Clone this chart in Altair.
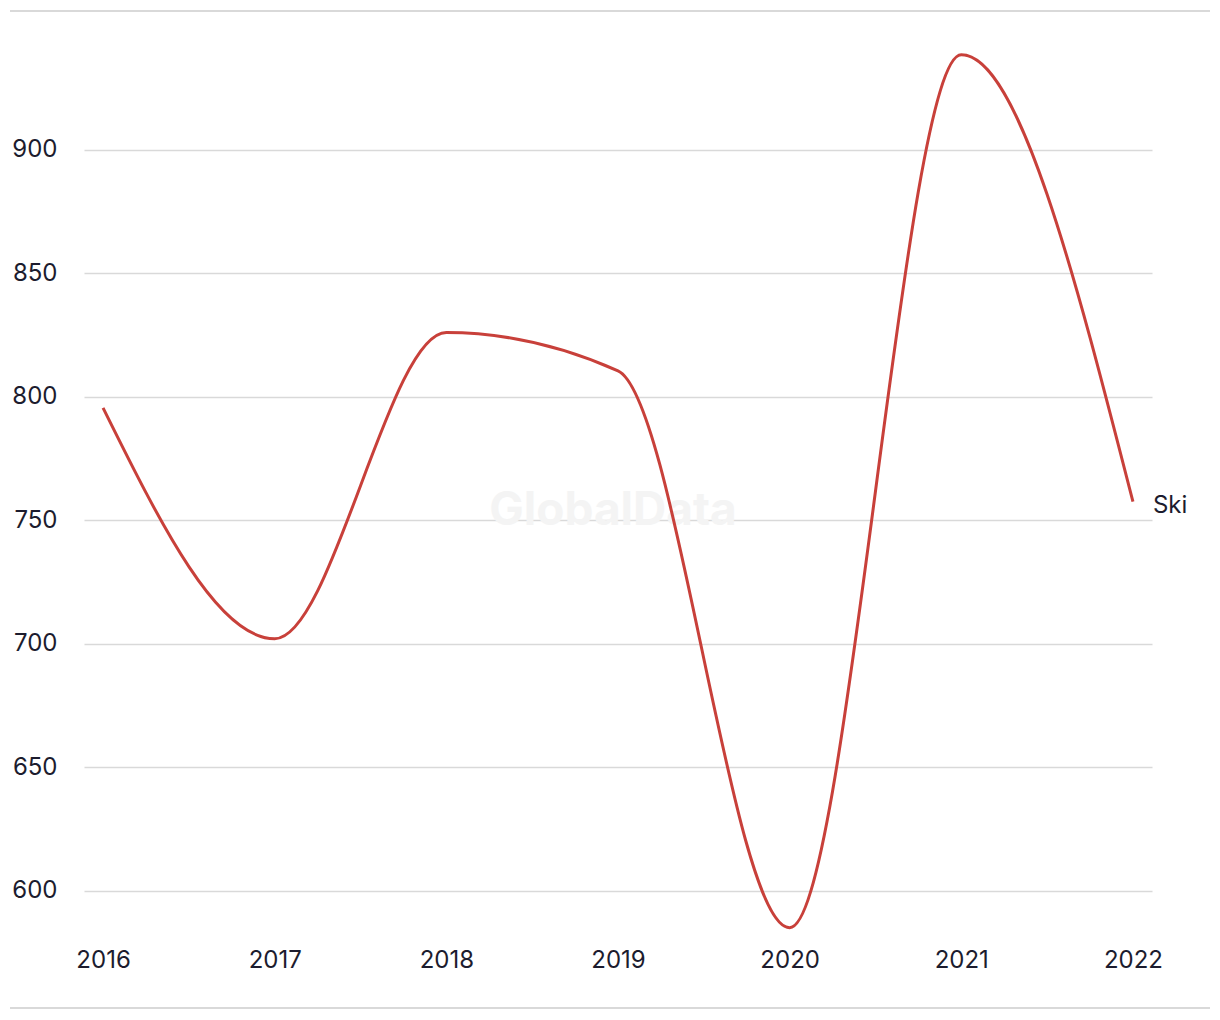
import altair as alt
import pandas as pd

years = [2016, 2017, 2018, 2019, 2020, 2021, 2022]
values = [795.5, 702.0, 826.0, 810.5, 585.0, 938.5, 757.5]
series = "Ski"
y_ticks = [600, 650, 700, 750, 800, 850, 900]

df = pd.DataFrame({"year": years, "value": values, "series": series})
last = df.tail(1)

FONT = "Inter"
TEXT = "#1c1c2e"
FS = 24

x = alt.X("year:Q", scale=alt.Scale(domain=[2015.889, 2022.111], nice=False, zero=False),
          axis=alt.Axis(values=years, format="d", grid=False, domain=False, ticks=False,
                        labelFontSize=FS, labelColor=TEXT, labelFont=FONT, labelPadding=8,
                        title=None))
y = alt.Y("value:Q", scale=alt.Scale(domain=[580, 944.5], nice=False, zero=False),
          axis=alt.Axis(values=y_ticks, domain=False, ticks=False, gridColor="#d9d9d9",
                        gridWidth=1.5, labelFontSize=FS, labelColor=TEXT, labelFont=FONT,
                        labelPadding=27, title=None))

watermark = alt.Chart(pd.DataFrame({"t": ["GlobalData"]})).mark_text(
    font=FONT, fontSize=46, fontWeight="bold", color="#f4f4f4", align="center", baseline="middle"
).encode(text="t:N", x=alt.value(529), y=alt.value(471))

line = alt.Chart(df).mark_line(interpolate="monotone", color="#c8403a", strokeWidth=3).encode(
    x=x, y=y
)

label = alt.Chart(last).mark_text(align="left", baseline="middle", dx=20, dy=4,
                                  fontSize=FS, font=FONT, color=TEXT).encode(
    x="year:Q", y="value:Q", text="series:N"
)

top_rule = alt.Chart(pd.DataFrame({"a": [0]})).mark_rule(color="#d9d9d9", strokeWidth=2).encode(
    x=alt.value(-74), x2=alt.value(1126), y=alt.value(-29)
)
bottom_rule = alt.Chart(pd.DataFrame({"a": [0]})).mark_rule(color="#d9d9d9", strokeWidth=2).encode(
    x=alt.value(-74), x2=alt.value(1126), y=alt.value(968)
)

chart = alt.layer(watermark, line, label, top_rule, bottom_rule).properties(
    width=1068, height=900,
    background="white",
    autosize=alt.AutoSizeParams(type="none"),
    padding={"left": 84, "top": 40, "right": 68, "bottom": 80},
).configure_view(strokeWidth=0, stroke=None)

chart.save("out.html", embed_options={"renderer": "svg", "actions": False})
